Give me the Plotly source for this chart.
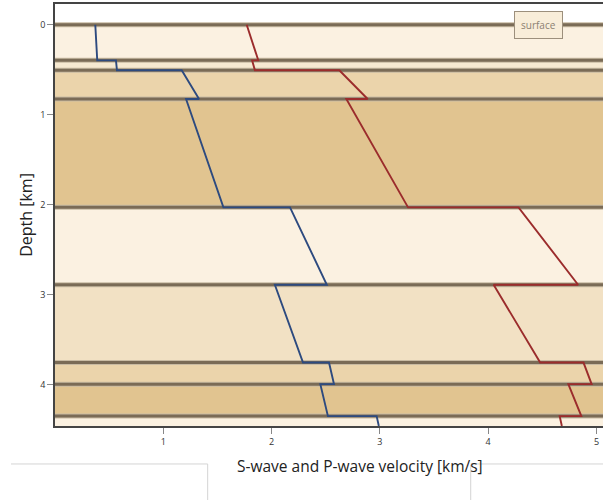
import plotly.graph_objects as go

# Layer interfaces (depth, km) and the bottom of the plotted section
interfaces = [0.0, 0.396, 0.507, 0.826, 2.03, 2.89, 3.755, 3.995, 4.35]
section_bottom = 4.46

# Layer fill colours, top to bottom
layer_colors = ["#FBF1E1", "#F6E9D1", "#EBD4AB", "#E1C490", "#FBF1E1",
                "#F2E1C4", "#EBD4AB", "#E1C490", "#FBF1E1"]

# Velocity at top and bottom of each layer (km/s)
vs_top = [0.372, 0.563, 1.17, 1.21, 2.17, 2.03, 2.53, 2.45, 2.97]
vs_bot = [0.39, 0.572, 1.33, 1.555, 2.51, 2.29, 2.576, 2.52, 2.99]
vp_top = [1.77, 1.82, 2.625, 2.69, 4.28, 4.05, 4.88, 4.74, 4.66]
vp_bot = [1.877, 1.846, 2.887, 3.26, 4.83, 4.48, 4.955, 4.86, 4.68]

x_ticks = [1, 2, 3, 4, 5]
y_ticks = [0, 1, 2, 3, 4]

x_range = [0, 5.06]
y_range = [section_bottom, -0.23]


def profile(tops, bots):
    """Piecewise-linear velocity profile with jumps at the interfaces."""
    bottoms = interfaces[1:] + [section_bottom]
    xs, ys = [], []
    for v0, v1, d0, d1 in zip(tops, bots, interfaces, bottoms):
        xs += [v0, v1]
        ys += [d0, d1]
    return xs, ys


fig = go.Figure()

bottoms = interfaces[1:] + [section_bottom + 0.5]
shapes = []
for d0, d1, col in zip(interfaces, bottoms, layer_colors):
    shapes.append(dict(type="rect", xref="x domain", yref="y", x0=0, x1=1,
                       y0=d0, y1=d1, fillcolor=col, line_width=0, layer="below"))
for d in interfaces:
    shapes.append(dict(type="line", xref="x domain", yref="y", x0=0, x1=1,
                       y0=d, y1=d, line=dict(color="#C9BBA3", width=5), layer="below"))
    shapes.append(dict(type="line", xref="x domain", yref="y", x0=0, x1=1,
                       y0=d, y1=d, line=dict(color="#7A6B56", width=3), layer="below"))

# faint page frame lines beneath the chart
frame = dict(color="#D4D4D4", width=1)
shapes += [
    dict(type="line", xref="paper", yref="paper", x0=-0.0803, x1=0.2786, y0=-0.090, y1=-0.090, line=frame),
    dict(type="line", xref="paper", yref="paper", x0=0.2786, x1=0.2786, y0=-0.090, y1=-0.20, line=frame),
    dict(type="line", xref="paper", yref="paper", x0=0.7586, x1=1.0, y0=-0.090, y1=-0.090, line=frame),
    dict(type="line", xref="paper", yref="paper", x0=0.7586, x1=0.7586, y0=-0.092, y1=-0.20, line=frame),
]

sx, sy = profile(vs_top, vs_bot)
px, py = profile(vp_top, vp_bot)
fig.add_trace(go.Scatter(x=sx, y=sy, mode="lines", name="Vs",
                         line=dict(color="#2D4A7F", width=1.9), showlegend=False))
fig.add_trace(go.Scatter(x=px, y=py, mode="lines", name="Vp",
                         line=dict(color="#9B2C2C", width=1.9), showlegend=False))

fig.add_annotation(x=4.46, y=0.0, xref="x", yref="y", text="surface", showarrow=False,
                   font=dict(family="Open Sans", size=10, color="#8C8072"),
                   bgcolor="#F8EDD9", bordercolor="#9C8F7C", borderwidth=1, borderpad=6)

# x title placed by pixel position across the plot width (plot spans 55..603 px)
fig.add_annotation(x=(360 - 55) / 548, y=-0.095, xref="paper", yref="paper",
                   text="S-wave and P-wave velocity [km/s]",
                   showarrow=False, xanchor="center", yanchor="middle",
                   font=dict(family="Open Sans", size=15.5, color="#222222"))

fig.update_layout(
    width=603, height=500,
    margin=dict(l=55, r=0, t=4, b=74),
    paper_bgcolor="white", plot_bgcolor="white",
    shapes=shapes,
    font=dict(family="Open Sans", color="#333333"),
    xaxis=dict(range=x_range, tickvals=x_ticks, showgrid=False, zeroline=False,
               showline=True, mirror=True, linecolor="#444444", linewidth=1.5,
               ticks="outside", ticklen=6, tickcolor="#888888",
               tickfont=dict(size=9, color="#333333")),
    yaxis=dict(range=y_range, tickvals=y_ticks, showgrid=False, zeroline=False,
               showline=True, mirror=False, linecolor="#444444", linewidth=1.5,
               ticks="outside", ticklen=6, tickcolor="#888888",
               tickfont=dict(size=9, color="#333333"),
               title=dict(text="Depth [km]", font=dict(family="Open Sans", size=16, color="#222222"),
                          standoff=4)),
)

fig.write_html("out.html")
